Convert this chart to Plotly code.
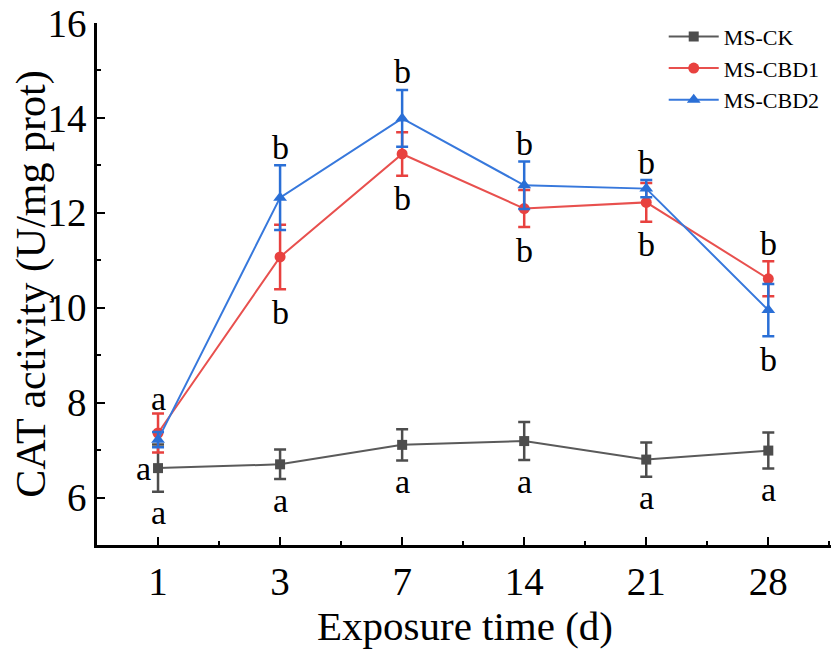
import plotly.graph_objects as go

# exposure days (categorical axis)
days = ["1", "3", "7", "14", "21", "28"]

ck_mean = [6.62, 6.70, 7.11, 7.19, 6.80, 6.99]
ck_err = [0.50, 0.31, 0.33, 0.40, 0.36, 0.38]

cbd1_mean = [7.36, 11.07, 13.24, 12.09, 12.22, 10.61]
cbd1_err = [0.41, 0.68, 0.46, 0.39, 0.41, 0.37]

cbd2_mean = [7.22, 12.32, 13.99, 12.58, 12.51, 9.95]
cbd2_err = [0.16, 0.68, 0.60, 0.50, 0.18, 0.55]

# significance letters
ck_letters = ["a", "a", "a", "a", "a", "a"]
cbd1_letters = ["a", "b", "b", "b", "b", "b"]
cbd2_letters = ["a", "b", "b", "b", "b", "b"]

FONT = "Liberation Serif, Times New Roman, serif"
x_idx = list(range(len(days)))

series = [
    ("MS-CK", ck_mean, ck_err, "#4d4d4d", "#5a5a5a", "square", 10),
    ("MS-CBD1", cbd1_mean, cbd1_err, "#e8413f", "#e8504e", "circle", 11),
    ("MS-CBD2", cbd2_mean, cbd2_err, "#2a6fd6", "#3778dc", "triangle-up", 12),
]

fig = go.Figure()
for name, m, e, mc, lc, sym, sz in series:
    fig.add_trace(go.Scatter(
        x=x_idx, y=m, name=name, mode="lines+markers",
        line=dict(color=lc, width=2),
        marker=dict(symbol=sym, size=sz, color=mc),
        error_y=dict(type="data", array=e, color=mc, thickness=2.5, width=6),
    ))

# letters
ann = []
def letter(x, y, t, yshift=0, xshift=0, xanchor="center"):
    ann.append(dict(x=x, y=y, text=t, showarrow=False, xref="x", yref="y",
                    xanchor=xanchor, yanchor="middle", yshift=yshift, xshift=xshift,
                    font=dict(family=FONT, size=34, color="black")))

for i in x_idx:
    # control group below its error bar
    letter(i, ck_mean[i] - ck_err[i], ck_letters[i], yshift=-21)
    top1 = cbd1_mean[i] + cbd1_err[i]
    top2 = cbd2_mean[i] + cbd2_err[i]
    bot1 = cbd1_mean[i] - cbd1_err[i]
    bot2 = cbd2_mean[i] - cbd2_err[i]
    if cbd2_mean[i] >= cbd1_mean[i] and i > 0:
        letter(i, top2, cbd2_letters[i], yshift=18)
        letter(i, bot1, cbd1_letters[i], yshift=-23)
    elif i > 0:
        letter(i, top1, cbd1_letters[i], yshift=18)
        letter(i, bot2, cbd2_letters[i], yshift=-23)
    else:
        letter(i, max(top1, top2), cbd1_letters[i], yshift=15)
        letter(i, ck_mean[i], cbd2_letters[i], xshift=-5, xanchor="right")

fig.update_layout(
    width=831, height=641,
    margin=dict(l=89, r=6, t=15, b=104, autoexpand=False),
    paper_bgcolor="white", plot_bgcolor="white",
    font=dict(family=FONT, color="black"),
    annotations=ann,
    legend=dict(x=0.77, y=1.014, xanchor="left", yanchor="top",
                font=dict(family=FONT, size=22), bgcolor="rgba(0,0,0,0)",
                tracegroupgap=0, itemwidth=50),
    xaxis=dict(
        range=[-0.5, 5.53], tickmode="array", tickvals=x_idx, ticktext=days,
        showline=True, linecolor="black", linewidth=2.5, showgrid=False, zeroline=False,
        ticks="inside", ticklen=8, tickwidth=2, tickcolor="black",
        tickfont=dict(family=FONT, size=39), ticklabeloverflow="allow",
        minor=dict(tickmode="linear", tick0=0.5, dtick=1, ticks="inside", ticklen=4,
                   tickwidth=2, tickcolor="black"),
        title=dict(text="Exposure time (d)", font=dict(family=FONT, size=41), standoff=6),
    ),
    yaxis=dict(
        range=[5, 16], tickmode="array", tickvals=[6, 8, 10, 12, 14, 16],
        showline=True, linecolor="black", linewidth=2.5, showgrid=False, zeroline=False,
        ticks="inside", ticklen=8, tickwidth=2, tickcolor="black",
        tickfont=dict(family=FONT, size=39), ticklabeloverflow="allow",
        minor=dict(tickmode="linear", tick0=7, dtick=2, ticks="inside", ticklen=4,
                   tickwidth=2, tickcolor="black"),
        title=dict(text="CAT activity (U/mg prot)", font=dict(family=FONT, size=42), standoff=6),
    ),
)

fig.write_html("out.html")
